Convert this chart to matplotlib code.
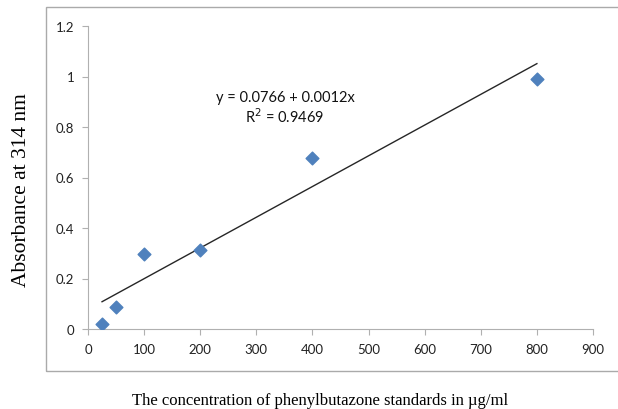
import numpy as np
import matplotlib
matplotlib.use('Agg')
import matplotlib.pyplot as plt
from matplotlib.patches import Rectangle

conc = [25, 50, 100, 200, 400, 800]
absorb = [0.02, 0.086, 0.296, 0.311, 0.679, 0.99]
xticks = [0, 100, 200, 300, 400, 500, 600, 700, 800, 900]
yticks = [0, 0.2, 0.4, 0.6, 0.8, 1.0, 1.2]
ytick_labels = ['0', '0.2', '0.4', '0.6', '0.8', '1', '1.2']

fig = plt.figure(figsize=(6.18, 4.10), dpi=100)
ax = fig.add_axes([88/618, 1-330/410, (593-88)/618, (330-27)/410])

# chart area border (runs off the right edge)
fig.patches.append(Rectangle((46/618, 1-372/410), 1.0, (372-8)/410,
                             transform=fig.transFigure, fill=False,
                             edgecolor='#AAAAAA', linewidth=1.0))

ax.scatter(conc, absorb, marker='D', s=42, color='#4F81BD', zorder=3)

# linear trendline
b, a = np.polyfit(conc, absorb, 1)
xs = np.array([min(conc), max(conc)])
ax.plot(xs, a + b * xs, color='#262626', linewidth=1.0)

ax.text(351, 0.918, 'y = 0.0766 + 0.0012x', ha='center', va='center',
        fontsize=10.5, family='Lato', color='#111111')
ax.text(351, 0.843, 'R$^2$ = 0.9469', ha='center', va='center',
        fontsize=10.5, family='Lato', color='#111111')

ax.set_xlim(0, 900)
ax.set_ylim(0, 1.2)
ax.set_xticks(xticks)
ax.set_yticks(yticks)
ax.set_yticklabels(ytick_labels)
for s in ['top', 'right']:
    ax.spines[s].set_visible(False)
for s in ['left', 'bottom']:
    ax.spines[s].set_color('#B0B0B0')
ax.tick_params(colors='#B0B0B0', labelcolor='#222222', length=4, labelsize=9.5, pad=6)
for lbl in ax.get_xticklabels() + ax.get_yticklabels():
    lbl.set_family('Lato')

fig.text(22/618, 1-190/410, 'Absorbance at 314 nm', rotation=90, ha='center', va='center',
         fontsize=15.5, family='Liberation Serif')
fig.text(320/618, 1-401/410, 'The concentration of phenylbutazone standards in \u00b5g/ml',
         ha='center', va='center', fontsize=12, family='Liberation Serif')

fig.savefig('out.png', dpi=100)
